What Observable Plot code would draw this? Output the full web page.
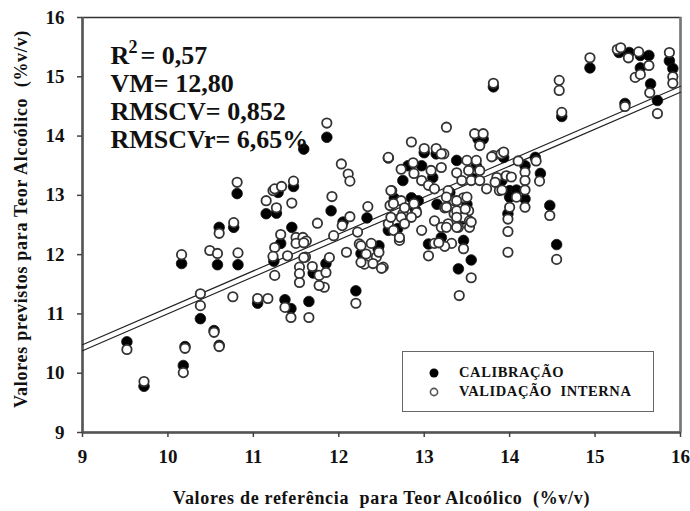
<!DOCTYPE html>
<html>
<head>
<meta charset="utf-8">
<script src="https://cdn.jsdelivr.net/npm/d3@7"></script>
<script src="https://cdn.jsdelivr.net/npm/@observablehq/plot@0.6"></script>
<style>
  html, body { margin: 0; padding: 0; background: #fff; }
  #wrap { position: relative; width: 690px; height: 511px; }
  #wrap svg text { white-space: pre; }
  #legend {
    position: absolute; left: 402px; top: 351px; width: 250px; height: 59px;
    border: 1.5px solid #666; background: #fff;
    font-family: "Liberation Serif", serif; font-weight: bold; font-size: 14.5px;
    letter-spacing: 0.6px; color: #111;
  }
  #legend .row { position: absolute; left: 26px; display: flex; align-items: center; }
  #legend svg { margin-right: 20px; }
</style>
</head>
<body>
<div id="wrap"></div>
<script>
// ---- data ----
const xTicks = [9, 10, 11, 12, 13, 14, 15, 16];
const yTicks = [9, 10, 11, 12, 13, 14, 15, 16];
const xTitle = "Valores de referência  para Teor Alcoólico  (%v/v)";
const yTitle = "Valores previstos para Teor Alcoólico  (%v/v)";
const seriesNames = ["CALIBRAÇÃO", "VALIDAÇÃO  INTERNA"];

const statNames = ["VM", "RMSCV", "RMSCVr"];
const statValues = ["12,80", "0,852", "6,65%"];
const r2Value = "0,57";

// regression lines (x ends, y at each end)
const lineX = [9, 16];
const lineCalY = [10.48, 14.84];
const lineValY = [10.38, 14.74];

// calibração (filled points) [reference, predicted]
const calibracao = [
  [9.52,10.53],[9.72,9.78],[10.18,10.13],[10.20,10.45],[10.38,10.92],[10.54,10.72],[10.60,10.47],
  [10.16,11.85],[10.58,11.83],[10.82,11.83],[10.60,12.46],[10.77,12.46],[10.81,13.03],
  [11.05,11.18],[11.15,12.69],[11.37,11.24],[11.44,11.09],[11.27,12.70],[11.29,13.05],
  [11.47,13.15],[11.45,12.46],[11.32,12.19],[11.24,11.89],[11.59,13.78],[11.86,13.98],
  [11.91,12.74],[11.70,11.69],[11.85,11.85],[11.65,11.21],[12.20,11.39],[12.33,12.62],
  [12.46,12.10],[12.69,12.44],[12.58,12.41],[12.26,12.02],[12.47,12.15],[12.58,13.63],
  [12.85,12.96],[12.93,12.91],[13.05,12.18],[13.20,12.29],[13.46,12.24],[13.00,13.72],
  [13.14,13.70],[12.81,13.50],[12.97,13.50],[13.38,13.59],[13.63,13.95],[13.69,13.95],
  [13.61,13.50],[13.93,13.64],[13.57,13.28],[13.91,13.25],[14.30,13.64],[14.18,13.50],
  [14.36,13.37],[14.00,13.08],[14.08,13.09],[14.00,12.97],[14.18,12.94],[13.98,12.69],
  [14.47,12.83],[14.55,12.17],[13.55,11.91],[13.40,11.76],[13.81,14.83],[14.61,14.33],
  [14.94,15.15],[15.28,15.41],[15.40,15.41],[15.53,15.36],[15.63,15.36],[15.53,15.15],
  [15.65,14.88],[15.73,14.60],[15.87,15.27],[15.91,15.14],[15.35,14.55],[12.90,12.75],
  [13.10,13.30],[13.30,13.05],[12.65,12.95],[13.45,12.60],[13.15,12.85],[12.75,13.25],
  [13.50,12.85],[12.05,12.55]
];

// validação interna (open points) [reference, predicted]
const validacao = [
  [9.52,10.40],[9.72,9.86],[10.18,10.01],[10.20,10.42],[10.38,11.34],[10.38,11.14],[10.54,10.69],
  [10.60,10.45],[10.76,11.29],[11.05,11.26],[11.17,11.26],[11.37,11.11],[11.44,10.94],
  [10.16,12.00],[10.49,12.07],[10.58,12.02],[10.82,12.03],[10.60,12.36],[10.77,12.54],
  [10.81,13.22],[11.15,12.91],[11.23,13.08],[11.27,12.79],[11.25,13.11],[11.33,13.15],
  [11.47,13.24],[11.45,12.87],[11.32,12.34],[11.25,12.12],[11.23,11.97],[11.40,11.98],
  [11.50,12.29],[11.58,12.29],[11.62,12.23],[11.75,12.53],[11.61,11.96],[11.54,11.79],
  [11.54,11.68],[11.54,11.53],[11.25,11.65],[11.89,11.95],[11.94,12.32],[12.04,12.49],
  [12.13,12.64],[12.09,12.04],[12.22,12.38],[12.34,12.81],[12.24,12.18],[12.32,12.01],
  [12.30,11.84],[12.44,11.96],[12.52,11.79],[11.69,11.80],[11.77,11.65],[11.85,11.70],
  [11.83,11.45],[11.77,11.48],[11.50,12.19],[11.59,12.20],[11.59,11.95],[12.20,11.18],
  [11.65,10.94],[12.26,12.15],[12.40,11.85],[12.50,11.77],[12.26,11.87],[12.38,12.19],
  [12.47,12.04],[12.71,12.24],[11.86,14.22],[11.92,12.98],[12.03,13.53],[12.11,13.36],
  [12.13,13.24],[12.58,13.64],[12.62,13.08],[12.60,12.83],[12.58,12.52],[12.75,12.69],
  [13.26,14.15],[12.85,13.90],[13.00,13.79],[13.14,13.79],[13.23,13.70],[13.59,14.04],
  [13.69,14.04],[13.65,13.84],[13.81,13.67],[13.90,13.70],[13.50,13.59],[13.61,13.59],
  [12.73,13.44],[12.87,13.55],[13.08,13.42],[13.20,13.47],[13.38,13.38],[13.52,13.42],
  [13.65,13.42],[13.85,13.30],[13.96,13.33],[12.88,13.37],[12.97,13.25],[13.05,13.17],
  [13.12,13.11],[13.28,13.08],[13.44,13.25],[13.55,13.25],[13.65,13.25],[13.73,13.11],
  [13.88,13.08],[12.61,13.08],[12.73,12.91],[12.64,12.86],[12.77,12.79],[12.88,12.86],
  [12.91,12.71],[13.24,12.79],[13.35,12.91],[13.46,12.96],[13.52,12.74],[13.46,12.63],
  [13.35,12.69],[12.61,12.63],[12.73,12.63],[12.85,12.63],[12.77,12.52],[12.64,12.41],
  [12.71,12.29],[12.97,12.41],[13.12,12.57],[13.20,12.46],[13.28,12.52],[13.40,12.46],
  [13.53,12.57],[13.53,12.46],[13.12,12.19],[13.32,12.19],[13.24,12.14],[13.05,11.98],
  [13.17,12.20],[13.46,12.10],[13.55,11.61],[13.41,11.31],[13.20,13.70],[13.93,13.73],
  [13.79,13.65],[14.10,13.58],[14.31,13.58],[14.18,13.39],[14.35,13.24],[14.18,13.25],
  [14.02,13.31],[13.83,13.22],[13.91,13.09],[14.18,13.09],[14.08,12.97],[14.18,12.80],
  [14.00,12.80],[13.98,12.60],[13.98,12.39],[13.98,12.04],[14.47,12.66],[14.55,11.92],
  [13.55,12.55],[13.26,12.97],[13.38,12.91],[13.50,12.97],[13.26,12.80],[13.38,12.74],
  [13.48,12.77],[13.38,12.63],[13.26,12.46],[13.38,12.46],[13.81,14.89],[14.58,14.94],
  [14.58,14.77],[14.61,14.40],[14.94,15.32],[15.26,15.46],[15.30,15.49],[15.39,15.32],
  [15.51,15.42],[15.63,15.19],[15.47,14.99],[15.53,15.04],[15.64,14.73],[15.73,14.38],
  [15.87,15.41],[15.91,15.00],[15.91,14.89],[15.35,14.50]
];

// ---- chart ----
const serif = "'Liberation Serif', 'Times New Roman', serif";
const lines = lineX.map((x, i) => ({x, a: lineCalY[i], b: lineValY[i]}));
const txt = {frameAnchor: "top-left", textAnchor: "start", lineAnchor: "bottom", fill: "#111", fontFamily: serif, fontWeight: "bold"};

const statMarks = statNames.map((n, i) =>
  Plot.text([`${n}= ${statValues[i]}`], {...txt, text: d => d, dx: 28, dy: 74 + i * 28, fontSize: 26})
);

const chart = Plot.plot({
  width: 690,
  height: 511,
  marginLeft: 82,
  marginRight: 10,
  marginTop: 17,
  marginBottom: 79,
  x: {domain: [9, 16]},
  y: {domain: [9, 16]},
  style: {fontFamily: serif, fontWeight: "bold", background: "#fff", color: "#111"},
  marks: [
    Plot.frame({stroke: "#333", strokeWidth: 1.5}),
    Plot.ruleX([16], {stroke: "#777", strokeWidth: 2.5}),
    Plot.ruleX([9], {stroke: "#555", strokeWidth: 2.5}),
    Plot.ruleY([9], {stroke: "#555", strokeWidth: 2.5}),
    Plot.axisX({ticks: xTicks, tickFormat: d => String(d), tickSize: 5, tickPadding: 12, fontSize: 19, fontFamily: serif, fontWeight: "bold", fill: "#111", label: null, stroke: "#444", strokeWidth: 1.5}),
    Plot.axisY({ticks: yTicks, tickFormat: d => String(d), tickSize: 5, tickPadding: 13, fontSize: 19, fontFamily: serif, fontWeight: "bold", fill: "#111", label: null, stroke: "#444", strokeWidth: 1.5}),
    Plot.line(lines, {x: "x", y: "a", stroke: "#222", strokeWidth: 1.2}),
    Plot.line(lines, {x: "x", y: "b", stroke: "#222", strokeWidth: 1.2}),
    Plot.dot(calibracao, {x: d => d[0], y: d => d[1], r: 5.3, fill: "#000", stroke: "#111", strokeWidth: 0.8}),
    Plot.dot(validacao, {x: d => d[0], y: d => d[1], r: 4.7, fill: "#fff", stroke: "#333", strokeWidth: 1.8}),
    // statistics annotation
    Plot.text(["R"], {...txt, text: d => d, dx: 28, dy: 46, fontSize: 26}),
    Plot.text(["2"], {...txt, text: d => d, dx: 46, dy: 35, fontSize: 18}),
    Plot.text([`= ${r2Value}`], {...txt, text: d => d, dx: 58, dy: 46, fontSize: 26}),
    ...statMarks,
    // axis titles
    Plot.text([xTitle], {frameAnchor: "bottom", textAnchor: "middle", dy: 71, text: d => d, fontSize: 18, lineAnchor: "bottom", fill: "#111", fontFamily: serif, fontWeight: "bold"}),
    Plot.text([yTitle], {frameAnchor: "left", textAnchor: "middle", dx: -61, dy: -6, rotate: -90, text: d => d, fontSize: 18, fill: "#111", fontFamily: serif, fontWeight: "bold"})
  ]
});

const wrap = document.getElementById("wrap");
wrap.appendChild(chart);

// letter spacing on the titles to match the reference's looser setting
d3.select(chart).selectAll("text").filter(function() {
  const t = this.textContent; return t === xTitle || t === yTitle;
}).style("letter-spacing", "0.7px");

// legend (inside the plot area)
const legend = document.createElement("div");
legend.id = "legend";
const symbols = [
  `<svg width="10" height="10"><circle cx="5" cy="5" r="4.5" fill="#000"/></svg>`,
  `<svg width="10" height="10"><circle cx="5" cy="5" r="3.6" fill="#fff" stroke="#555" stroke-width="1.6"/></svg>`
];
seriesNames.forEach((name, i) => {
  const row = document.createElement("div");
  row.className = "row";
  row.style.top = (12 + i * 19) + "px";
  row.innerHTML = symbols[i] + `<span style="white-space:pre">${name}</span>`;
  legend.appendChild(row);
});
wrap.appendChild(legend);
</script>
</body>
</html>
